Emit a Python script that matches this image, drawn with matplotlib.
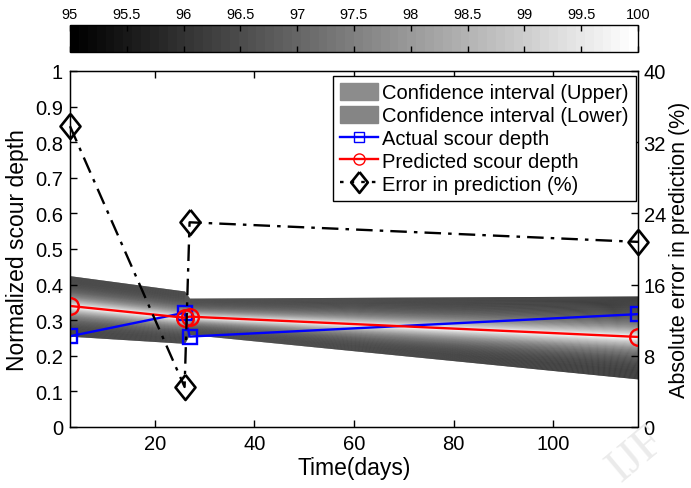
import matplotlib
matplotlib.use('Agg')
import matplotlib.pyplot as plt
import matplotlib.patches as mpatches
from matplotlib.path import Path
import numpy as np

plt.rcParams['font.family'] = ['Liberation Sans', 'DejaVu Sans']

# ---- data ----
days      = [3, 26, 27, 117]
actual    = [0.255, 0.321, 0.254, 0.317]
predicted = [0.340, 0.307, 0.310, 0.253]
ci_upper  = [0.425, 0.382, 0.362, 0.368]
ci_lower  = [0.255, 0.235, 0.260, 0.135]
err_days  = [3, 26, 27, 117]
err_pct   = [33.8, 4.5, 23.0, 20.8]

cb_ticks = [95, 95.5, 96, 96.5, 97, 97.5, 98, 98.5, 99, 99.5, 100]

W, H = 691, 489
fig = plt.figure(figsize=(W / 100, H / 100), dpi=100)
ax = fig.add_axes([70 / W, 1 - 428 / H, 568 / W, 356 / H])

# gradient confidence band: white at the prediction, black at the CI edges
x = np.array(days, dtype=float)
p = np.array(predicted)
up = np.array(ci_upper)
lo = np.array(ci_lower)
n = 80
cmap = plt.get_cmap('gray', 64)
for k in range(n):
    t0, t1 = k / n, (k + 1) / n
    c = cmap((1 - (t0 + t1) / 2) ** 2.8)
    ax.fill_between(x, p + t0 * (up - p), p + t1 * (up - p), color=c,
                    linewidth=0, antialiased=False, zorder=1)
    ax.fill_between(x, p - t0 * (p - lo), p - t1 * (p - lo), color=c,
                    linewidth=0, antialiased=False, zorder=1)

ax.plot(days, actual, '-s', color='#0000ff', lw=1.7, ms=10, mfc='none',
        mew=1.7, zorder=4)
ax.plot(days, predicted, '-o', color='#ff0000', lw=1.7, ms=12, mfc='none',
        mew=1.7, zorder=4)

ax.set_xlim(3, 117)
ax.set_ylim(0, 1)
ax.set_xticks([20, 40, 60, 80, 100])
ax.set_yticks(np.arange(0, 1.01, 0.1))
ax.set_yticklabels(['0', '0.1', '0.2', '0.3', '0.4', '0.5', '0.6', '0.7',
                    '0.8', '0.9', '1'])
ax.tick_params(direction='in', labelsize=14.5, top=True, right=True,
               length=5, width=1, pad=5)
ax.set_xlabel('Time(days)', fontsize=16.5, labelpad=2)
ax.set_ylabel('Normalized scour depth', fontsize=16.5, labelpad=4)
for s in ax.spines.values():
    s.set_linewidth(1)

ax2 = ax.twinx()
diamond = Path([(0, 1), (0.8, 0), (0, -1), (-0.8, 0), (0, 1)])
ax2.plot(err_days, err_pct, color='black', lw=1.7,
         ls=(0, (7, 3, 1.5, 3)), marker=diamond, ms=18, mfc='none',
         mew=1.9, zorder=5, clip_on=False)
ax2.set_ylim(0, 40)
ax2.set_yticks([0, 8, 16, 24, 32, 40])
ax2.tick_params(direction='in', labelsize=14.5, length=5, width=1, pad=4)
ax2.set_ylabel('Absolute error in prediction (%)', fontsize=15.5,
               labelpad=2)

handles = [
    mpatches.Patch(facecolor='#8c8c8c', edgecolor='#8c8c8c',
                   label='Confidence interval (Upper)'),
    mpatches.Patch(facecolor='#858585', edgecolor='#858585',
                   label='Confidence interval (Lower)'),
    plt.Line2D([], [], color='#0000ff', marker='s', ms=7, mfc='none',
               lw=1.7, label='Actual scour depth'),
    plt.Line2D([], [], color='#ff0000', marker='o', ms=8, mfc='none',
               lw=1.7, label='Predicted scour depth'),
    plt.Line2D([], [], color='black', marker=diamond, ms=15, mfc='none',
               mew=1.9, ls=(0, (1.5, 3)), lw=1.7,
               label='Error in prediction (%)'),
]
leg = ax2.legend(handles=handles, loc='upper right', fontsize=14.5,
                 frameon=True, fancybox=False, edgecolor='black',
                 framealpha=1, borderpad=0.35, labelspacing=0.18,
                 handlelength=1.9, handleheight=0.9, handletextpad=0.2,
                 borderaxespad=0, bbox_to_anchor=(0.9965, 0.986))
leg.get_frame().set_linewidth(1)
leg.set_zorder(10)

# colour bar on top
cax = fig.add_axes([70 / W, 1 - 53 / H, 568 / W, 27 / H])
sm = plt.cm.ScalarMappable(cmap=cmap, norm=plt.Normalize(95, 100))
cb = fig.colorbar(sm, cax=cax, orientation='horizontal', ticks=cb_ticks)
cb.ax.set_xticklabels([f'{v:g}' for v in cb_ticks])
cax.xaxis.set_ticks_position('both')
cax.xaxis.set_label_position('top')
cax.tick_params(direction='in', labelsize=10.5, labeltop=True,
                labelbottom=False, length=4, width=1, pad=3)
cb.outline.set_linewidth(1)

# faint watermark
fig.text(0.92, 0.07, 'IJF', fontsize=34, color='#ebebeb',
         family='Liberation Serif', rotation=40, ha='center', va='center',
         zorder=0)

fig.savefig('out.png', dpi=100)
